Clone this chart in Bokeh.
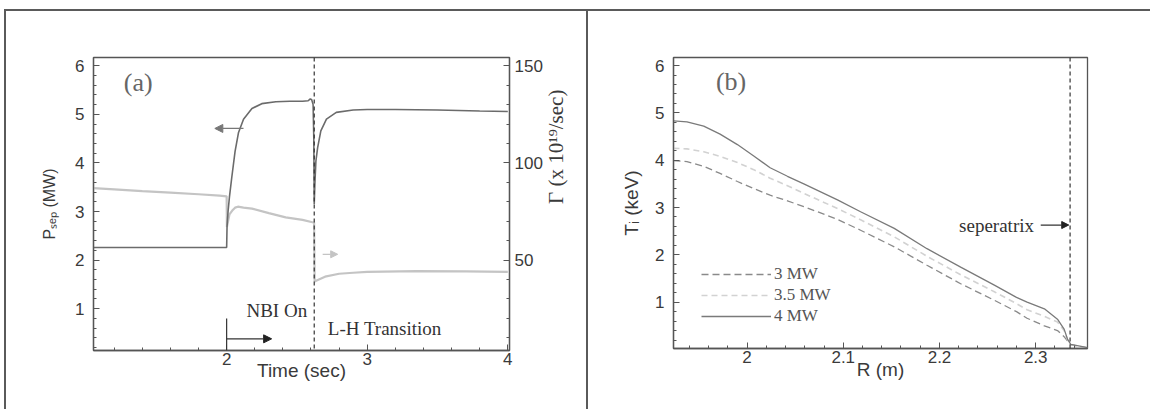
import math
from bokeh.plotting import figure
from bokeh.models import (Range1d, LinearAxis, SingleIntervalTicker, FixedTicker,
                          NumeralTickFormatter, Span, Label, Arrow, NormalHead, Legend,
                          LegendItem)
from bokeh.layouts import row
from bokeh.embed import file_html
from bokeh.resources import INLINE

# ---------------- Panel (a): P_sep and particle flux vs time ----------------
time_s = [1.053, 1.5, 1.999, 2.0, 2.003, 2.01, 2.02, 2.036, 2.06, 2.084, 2.12, 2.18, 2.25,
          2.35, 2.45, 2.54, 2.58, 2.595, 2.605, 2.615, 2.62, 2.623, 2.628, 2.635, 2.647,
          2.67, 2.71, 2.78, 2.9, 3.0, 3.2, 3.5, 3.8, 4.0]
p_sep_mw = [2.26, 2.26, 2.26, 2.26, 2.7, 3.0, 3.3, 3.69, 4.24, 4.62, 4.90, 5.12, 5.22,
            5.26, 5.27, 5.27, 5.28, 5.32, 5.30, 5.20, 4.5, 3.15, 3.6, 4.04, 4.31,
            4.66, 4.90, 5.04, 5.09, 5.10, 5.10, 5.09, 5.07, 5.06]

gamma_time_s = [1.053, 1.2, 1.4, 1.6, 1.8, 1.95, 2.0, 2.002, 2.01, 2.02, 2.04, 2.06, 2.08,
                2.12, 2.18, 2.3, 2.42, 2.54, 2.61, 2.622, 2.626, 2.64, 2.7, 2.8, 2.9, 3.0,
                3.35, 3.7, 4.0]
gamma_1e19 = [87.0, 86.4, 85.5, 84.7, 83.9, 83.2, 82.8, 67.0, 70.0, 73.5, 75.5, 77.0, 77.5,
              77.0, 76.5, 74.2, 72.0, 70.7, 69.5, 69.3, 39.0, 39.5, 41.5, 43.0, 43.5, 44.0,
              44.3, 44.2, 44.0]

LH_TIME = 2.623

# ---------------- Panel (b): ion temperature profiles ----------------
r_m = [1.9236, 1.9376, 1.955, 1.972, 1.99, 2.007, 2.024, 2.042, 2.059, 2.094, 2.118,
       2.153, 2.187, 2.222, 2.257, 2.28, 2.291, 2.309, 2.3226, 2.3295, 2.333, 2.3364, 2.354]
ti_3mw = [3.99, 3.97, 3.87, 3.72, 3.55, 3.40, 3.26, 3.14, 3.02, 2.75, 2.52,
          2.17, 1.78, 1.39, 1.04, 0.80, 0.66, 0.50, 0.40, 0.27, 0.18, 0.10, 0.03]
ti_35mw = [4.25, 4.24, 4.18, 4.08, 3.95, 3.80, 3.62, 3.46, 3.30, 2.98, 2.74,
           2.38, 1.97, 1.58, 1.22, 0.97, 0.84, 0.70, 0.58, 0.40, 0.20, 0.10, 0.03]
ti_4mw = [4.83, 4.81, 4.72, 4.55, 4.33, 4.09, 3.84, 3.66, 3.50, 3.16, 2.91,
          2.56, 2.13, 1.74, 1.36, 1.10, 1.00, 0.86, 0.64, 0.43, 0.22, 0.11, 0.04]
legend_labels = ["3 MW", "3.5 MW", "4 MW"]

SEPARATRIX_R = 2.3357

AX = "#555555"
SANS = "Liberation Sans"
SERIF = "Liberation Serif"
BORDER = "2px solid #5a5a5a"


def style_axis(ax, label_standoff=9):
    ax.axis_line_color = AX
    ax.axis_line_width = 1.3
    ax.major_tick_line_color = AX
    ax.minor_tick_line_color = AX
    ax.major_tick_in = 6
    ax.major_tick_out = 0
    ax.minor_tick_in = 3
    ax.minor_tick_out = 0
    ax.major_label_text_font = SANS
    ax.major_label_text_font_size = "17px"
    ax.major_label_text_color = "#3a3a3a"
    ax.major_label_standoff = label_standoff
    ax.axis_label_text_font = SANS
    ax.axis_label_text_font_size = "19px"
    ax.axis_label_text_font_style = "normal"
    ax.axis_label_text_color = "#3a3a3a"


# ---------------- figure (a) ----------------
pa = figure(width=580, height=398, frame_width=412, frame_height=291,
            min_border_left=87, min_border_right=81, min_border_top=46, min_border_bottom=61,
            x_range=Range1d(1.053, 4.012), y_range=Range1d(0.14, 6.17),
            output_backend="svg", toolbar_location=None)
pa.margin = (9, 0, 0, 4)
pa.xgrid.visible = False
pa.ygrid.visible = False
pa.outline_line_color = AX
pa.outline_line_width = 1.3
pa.extra_y_ranges = {"gamma": Range1d(3.5, 154.25)}
pa.xaxis.ticker = SingleIntervalTicker(interval=1, num_minor_ticks=5)
pa.yaxis.ticker = SingleIntervalTicker(interval=1, num_minor_ticks=5)
style_axis(pa.xaxis[0], label_standoff=2)
style_axis(pa.yaxis[0])
pa.xaxis.axis_label = "Time (sec)"
pa.xaxis.axis_label_standoff = -8
pa.yaxis.axis_label = "Pₛₑₚ (MW)"
pa.yaxis.axis_label_text_font_size = "16px"
pa.yaxis.axis_label_standoff = 14

# right axis: ticks and numbers for the particle flux
rax = LinearAxis(y_range_name="gamma",
                 ticker=SingleIntervalTicker(interval=50, num_minor_ticks=5))
style_axis(rax, label_standoff=5)
pa.add_layout(rax, "right")

# second right axis only carries the flux title (reads bottom to top)
lab_ax = LinearAxis(y_range_name="gamma", ticker=FixedTicker(ticks=[]))
lab_ax.axis_line_color = None
lab_ax.major_tick_line_color = None
lab_ax.minor_tick_line_color = None
lab_ax.major_label_standoff = 0
lab_ax.axis_label = "Γ (x 10¹⁹/sec)"
lab_ax.axis_label_text_font = SERIF
lab_ax.axis_label_text_font_size = "21px"
lab_ax.axis_label_text_font_style = "normal"
lab_ax.axis_label_text_color = "#3a3a3a"
lab_ax.axis_label_standoff = 10
try:
    lab_ax.axis_label_orientation = math.pi / 2
except Exception:
    pass
pa.add_layout(lab_ax, "right")

pa.line(gamma_time_s, gamma_1e19, y_range_name="gamma", line_color="#c4c4c4", line_width=2.2)
pa.line(time_s, p_sep_mw, line_color="#6b6b6b", line_width=1.6)
pa.add_layout(Span(location=LH_TIME, dimension="height", line_color="#333333",
                   line_dash="4 3", line_width=1.2))

pa.add_layout(Label(x=1.371, y=5.655, text="(a)", text_font=SERIF, text_font_size="26px",
                    text_color="#666666", text_align="center", text_baseline="middle"))
pa.add_layout(Label(x=2.357, y=0.967, text="NBI On", text_font=SERIF, text_font_size="19px",
                    text_color="#333333", text_align="center", text_baseline="middle"))
pa.add_layout(Label(x=2.72, y=0.586, text="L-H Transition", text_font=SERIF,
                    text_font_size="19px", text_color="#333333", text_align="left",
                    text_baseline="middle"))
# NBI marker and arrows
pa.add_layout(Arrow(end=None, x_start=2.0, y_start=0.14, x_end=2.0, y_end=0.80,
                    line_color="#333333", line_width=1.2))
pa.add_layout(Arrow(end=NormalHead(size=8, fill_color="#222222", line_color="#222222"),
                    x_start=2.0, y_start=0.38, x_end=2.32, y_end=0.38,
                    line_color="#333333", line_width=1.2))
pa.add_layout(Arrow(end=NormalHead(size=8, fill_color="#777777", line_color="#777777"),
                    x_start=2.12, y_start=4.71, x_end=1.916, y_end=4.71,
                    line_color="#777777", line_width=1.3))
pa.add_layout(Arrow(end=NormalHead(size=7, fill_color="#c4c4c4", line_color="#c4c4c4"),
                    x_start=2.683, y_start=2.12, x_end=2.79, y_end=2.12,
                    line_color="#c4c4c4", line_width=1.3))
pa.styles = {"border-top": BORDER, "border-left": BORDER, "border-right": BORDER}

# ---------------- figure (b) ----------------
pb = figure(width=562, height=398, frame_width=414, frame_height=289,
            min_border_left=85, min_border_right=63, min_border_top=46, min_border_bottom=63,
            x_range=Range1d(1.9236, 2.3538), y_range=Range1d(0.021, 6.17),
            output_backend="svg", toolbar_location=None)
pb.margin = (9, 0, 0, 0)
pb.xgrid.visible = False
pb.ygrid.visible = False
pb.outline_line_color = AX
pb.outline_line_width = 1.3
pb.xaxis.ticker = SingleIntervalTicker(interval=0.1, num_minor_ticks=5)
pb.xaxis.formatter = NumeralTickFormatter(format="0.[0]")
pb.yaxis.ticker = SingleIntervalTicker(interval=1, num_minor_ticks=5)
style_axis(pb.xaxis[0], label_standoff=2)
style_axis(pb.yaxis[0])
pb.xaxis.axis_label = "R (m)"
pb.xaxis.axis_label_standoff = -7
pb.yaxis.axis_label = "Tᵢ (keV)"
pb.yaxis.axis_label_standoff = 10

r3 = pb.line(r_m, ti_3mw, line_color="#8a8a8a", line_dash="7 4", line_width=1.3)
r35 = pb.line(r_m, ti_35mw, line_color="#d2d2d2", line_dash="6 4", line_width=1.6)
r4 = pb.line(r_m, ti_4mw, line_color="#7a7a7a", line_width=1.3)
pb.add_layout(Span(location=SEPARATRIX_R, dimension="height", line_color="#333333",
                   line_dash="4 3", line_width=1.2))

legend = Legend(items=[LegendItem(label=legend_labels[0], renderers=[r3]),
                       LegendItem(label=legend_labels[1], renderers=[r35]),
                       LegendItem(label=legend_labels[2], renderers=[r4])],
                location=(28, 22), glyph_width=70, glyph_height=14, label_height=14,
                label_standoff=3, spacing=1, padding=0, margin=0,
                label_text_font=SERIF, label_text_font_size="17px",
                label_text_line_height=1.0,
                label_text_color="#555555", border_line_color=None,
                background_fill_alpha=0)
pb.add_layout(legend)

pb.add_layout(Label(x=1.9834, y=5.66, text="(b)", text_font=SERIF, text_font_size="26px",
                    text_color="#666666", text_align="center", text_baseline="middle"))
pb.add_layout(Label(x=2.2982, y=2.63, text="seperatrix", text_font=SERIF,
                    text_font_size="19px", text_color="#333333", text_align="right",
                    text_baseline="middle"))
pb.add_layout(Arrow(end=NormalHead(size=7, fill_color="#222222", line_color="#222222"),
                    x_start=2.3052, y_start=2.63, x_end=2.3343, y_end=2.63,
                    line_color="#333333", line_width=1.2))
pb.styles = {"border-top": BORDER}

layout = row(pa, pb)
open("out.html", "w").write(file_html(layout, INLINE))
